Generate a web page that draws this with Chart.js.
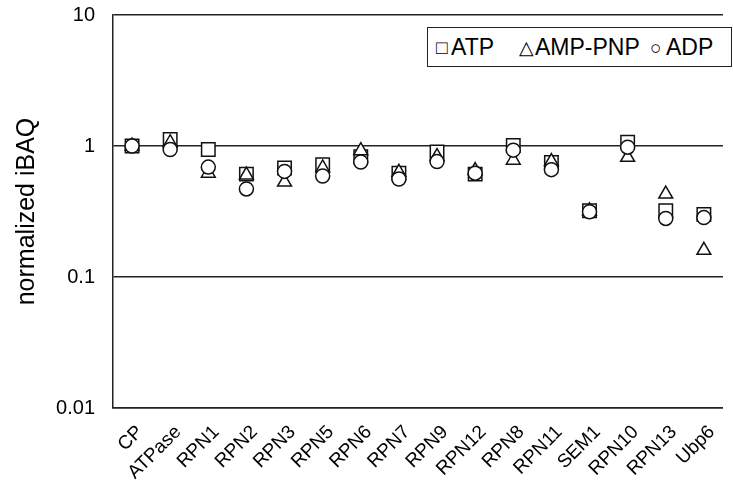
<!DOCTYPE html>
<html>
<head>
<meta charset="utf-8">
<script src="https://cdn.jsdelivr.net/npm/chart.js@4"></script>
<style>
  html, body { margin: 0; padding: 0; background: #fff; }
  #wrap { position: relative; width: 733px; height: 488px; }
  #leyenda {
    position: absolute; left: 427px; top: 27px; width: 305px; height: 40px;
    border: 1.5px solid #222; background: #fff; box-sizing: border-box;
    font-family: 'Liberation Sans', Arial, sans-serif; font-size: 23px; color: #000;
  }
  #leyenda span { position: absolute; top: 6px; line-height: 26px; white-space: nowrap; }
  #leyenda .sym { font-size: 19px; top: 7px; }
</style>
</head>
<body>
<div id="wrap">
  <canvas id="chart" width="733" height="488"></canvas>
  <div id="leyenda">
    <span class="sym" style="left:8px">□</span><span style="left:23px">ATP</span>
    <span class="sym" style="left:91px">△</span><span style="left:107px">AMP-PNP</span>
    <span class="sym" style="left:222px">○</span><span style="left:238px">ADP</span>
  </div>
</div>
<script>
const categorias = ['CP', 'ATPase', 'RPN1', 'RPN2', 'RPN3', 'RPN5', 'RPN6', 'RPN7', 'RPN9', 'RPN12', 'RPN8', 'RPN11', 'SEM1', 'RPN10', 'RPN13', 'Ubp6'];

const DATA_ATP = [1.0, 1.12, 0.94, 0.61, 0.68, 0.72, 0.83, 0.62, 0.90, 0.61, 1.01, 0.75, 0.32, 1.07, 0.32, 0.30];
const DATA_AMPPNP = [1.0, 1.06, 0.62, 0.60, 0.53, 0.68, 0.92, 0.63, 0.83, 0.65, 0.78, 0.76, 0.32, 0.82, 0.43, 0.16];
const DATA_ADP = [1.0, 0.94, 0.69, 0.47, 0.64, 0.59, 0.755, 0.56, 0.76, 0.62, 0.93, 0.66, 0.315, 0.98, 0.28, 0.284];

const ticksY = [0.01, 0.1, 1, 10];

const FUENTE = "'Liberation Sans', Arial, sans-serif";

const serie = (label, data, estilo, radio, orden) => ({
  label: label,
  data: data,
  showLine: false,
  pointStyle: estilo,
  pointRadius: radio,
  pointHoverRadius: radio,
  pointBackgroundColor: '#fff',
  pointBorderColor: '#111',
  pointBorderWidth: 1.5,
  order: orden,
});

new Chart(document.getElementById('chart'), {
  type: 'line',
  data: {
    labels: categorias,
    datasets: [
      serie('ATP', DATA_ATP, 'rect', 9.5, 2),
      serie('AMP-PNP', DATA_AMPPNP, 'triangle', 8, 1),
      serie('ADP', DATA_ADP, 'circle', 7, 0),
    ],
  },
  options: {
    responsive: false,
    animation: false,
    layout: { autoPadding: false, padding: { top: 15, right: 0, left: 0, bottom: 0 } },
    plugins: { legend: { display: false }, tooltip: { enabled: false } },
    scales: {
      x: {
        type: 'category',
        offset: true,
        grid: { display: false, drawTicks: false },
        border: { display: true, color: '#222', width: 1.5 },
        ticks: {
          autoSkip: false,
          minRotation: 45,
          maxRotation: 45,
          padding: 13,
          labelOffset: 8,
          color: '#000',
          font: { family: FUENTE, size: 19 },
        },
        afterFit: scale => { scale.height = 80; },
      },
      y: {
        type: 'logarithmic',
        min: 0.01,
        max: 10,
        afterBuildTicks: scale => { scale.ticks = ticksY.map(v => ({ value: v })); },
        grid: { color: '#222', lineWidth: 1.5, drawTicks: false },
        border: { display: true, color: '#222', width: 1.5 },
        ticks: {
          padding: 18,
          color: '#000',
          font: { family: FUENTE, size: 20 },
          callback: v => String(v),
        },
        title: {
          display: true,
          text: 'normalized iBAQ',
          color: '#000',
          font: { family: FUENTE, size: 25 },
          padding: { top: 12, bottom: 0 },
        },
        afterFit: scale => {
          scale.width = 113;
          scale.paddingTop = 0;
          scale.paddingBottom = 0;
        },
      },
    },
  },
});
</script>
</body>
</html>
